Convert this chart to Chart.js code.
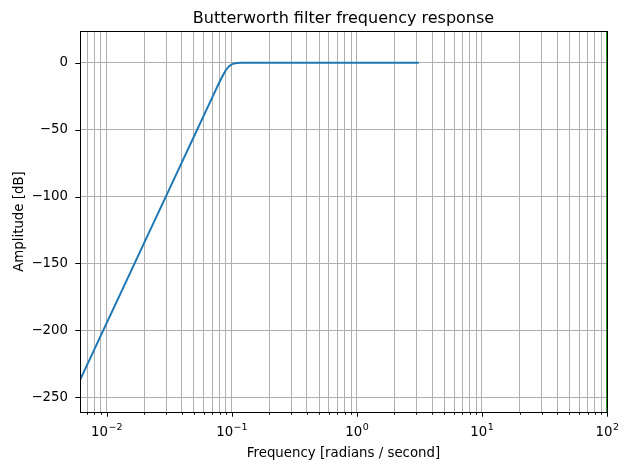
<!DOCTYPE html>
<html>
<head>
<meta charset="utf-8">
<script src="https://cdn.jsdelivr.net/npm/chart.js@4.4.0/dist/chart.umd.min.js"></script>
<style>
  html, body { margin: 0; padding: 0; background: #fff; }
  #wrap { width: 628px; height: 469px; }
</style>
</head>
<body>
<div id="wrap"><canvas id="bwgraph" width="628" height="469"></canvas></div>
<script>
// frequency response (rad/sample, dB)
var freq = [0.00614, 0.008, 0.01, 0.015, 0.02, 0.03, 0.04, 0.05, 0.06, 0.07, 0.08, 0.085, 0.09, 0.095, 0.1, 0.105, 0.11, 0.12, 0.15, 0.3, 1, 3.136];
var amp = [-237.2, -214.3, -194.9, -159.7, -134.7, -99.5, -74.5, -55.1, -39.3, -25.9, -14.4, -9.5, -5.4, -2.7, -1.2, -0.5, -0.2, -0.03, 0, 0, 0, 0];

// cutoff marker line (green, sits on the right spine)
var cutoffX = [100, 100];
var cutoffY = [-261.1, 23.74];

var xRange = [0.00614, 100];
var yRange = [-261.1, 23.74];
var yTicks = [-250, -200, -150, -100, -50, 0];

var FONT = 'DejaVu Sans';

function isPow10(v) {
    var e = Math.log10(v);
    return Math.abs(e - Math.round(e)) < 1e-9;
}

// axes box, tick marks and texts, drawn over the lines like matplotlib spines
var frame = {
    id: 'frame',
    afterDatasetsDraw: function(chart) {
        var ctx = chart.ctx, a = chart.chartArea;
        var xs = chart.scales.x, ys = chart.scales.y;
        ctx.save();
        ctx.strokeStyle = '#000';
        ctx.lineWidth = 1;
        ctx.beginPath();
        xs.ticks.forEach(function(t) {
            var px = Math.round(xs.getPixelForValue(t.value)) + 0.5;
            var len = isPow10(t.value) ? 4.7 : 2.7;
            ctx.moveTo(px, a.bottom);
            ctx.lineTo(px, a.bottom + len);
        });
        ys.ticks.forEach(function(t) {
            var py = Math.round(ys.getPixelForValue(t.value)) + 0.5;
            ctx.moveTo(a.left, py);
            ctx.lineTo(a.left - 4.7, py);
        });
        ctx.stroke();
        ctx.strokeRect(a.left + 0.5, a.top + 0.5, a.right - a.left, a.bottom - a.top);

        ctx.fillStyle = '#000';
        ctx.textBaseline = 'alphabetic';

        // 10^k labels with a smaller raised exponent
        xs.ticks.forEach(function(t) {
            if (!isPow10(t.value)) return;
            var px = xs.getPixelForValue(t.value);
            var e = String(Math.round(Math.log10(t.value))).replace('-', '\u2212');
            ctx.font = '13.33px "' + FONT + '"';
            var w1 = ctx.measureText('10').width;
            ctx.font = '9.5px "' + FONT + '"';
            var w2 = ctx.measureText(e).width;
            var x0 = px - (w1 + w2) / 2;
            ctx.textAlign = 'left';
            ctx.font = '13.33px "' + FONT + '"';
            ctx.fillText('10', x0, 435.5);
            ctx.font = '9.5px "' + FONT + '"';
            ctx.fillText(e, x0 + w1 + 0.5, 430);
        });

        ctx.textAlign = 'center';
        ctx.font = '16px "' + FONT + '"';
        ctx.fillText('Butterworth filter frequency response', (a.left + a.right) / 2, 22.5);
        ctx.font = '13.33px "' + FONT + '"';
        ctx.fillText('Frequency [radians / second]', (a.left + a.right) / 2, 456.5);
        ctx.translate(23, (a.top + a.bottom) / 2);
        ctx.rotate(-Math.PI / 2);
        ctx.fillText('Amplitude [dB]', 0, 0);
        ctx.restore();
    }
};

Chart.defaults.color = '#000';
Chart.defaults.font.family = FONT;
Chart.defaults.font.size = 13.33;

var ctx = document.getElementById('bwgraph').getContext('2d');
new Chart(ctx, {
    type: 'line',
    data: {
        datasets: [{
            data: freq.map(function(f, i) { return {x: f, y: amp[i]}; }),
            borderColor: '#1f77b4',
            borderWidth: 2,
            pointRadius: 0,
            tension: 0,
            fill: false
        }, {
            data: cutoffX.map(function(f, i) { return {x: f, y: cutoffY[i]}; }),
            borderColor: 'green',
            borderWidth: 1.6,
            pointRadius: 0,
            clip: 3,
            fill: false
        }]
    },
    options: {
        responsive: false,
        animation: false,
        events: [],
        layout: { padding: { left: 0, right: 21, top: 31, bottom: 0 } },
        plugins: {
            legend: { display: false },
            tooltip: { enabled: false }
        },
        scales: {
            x: {
                type: 'logarithmic',
                min: xRange[0],
                max: xRange[1],
                border: { display: false },
                grid: { color: '#b0b0b0', lineWidth: 1, drawTicks: false },
                afterBuildTicks: function(scale) {
                    var t = [];
                    for (var k = -3; k <= 2; k++) {
                        for (var m = 1; m <= 9; m++) {
                            var v = m * Math.pow(10, k);
                            if (v >= xRange[0] && v <= xRange[1] * 1.000001) t.push({value: v, major: m === 1});
                        }
                    }
                    scale.ticks = t;
                },
                ticks: {
                    autoSkip: false,
                    maxRotation: 0,
                    padding: 9,
                    callback: function() { return ''; }
                },
                afterFit: function(scale) { scale.height = 57; }
            },
            y: {
                type: 'linear',
                min: yRange[0],
                max: yRange[1],
                border: { display: false },
                grid: { color: '#b0b0b0', lineWidth: 1, drawTicks: false },
                afterBuildTicks: function(scale) {
                    scale.ticks = yTicks.map(function(v) { return {value: v}; });
                },
                ticks: {
                    padding: 12,
                    callback: function(v) { return String(v).replace('-', '\u2212'); }
                },
                afterFit: function(scale) { scale.width = 80; }
            }
        }
    },
    plugins: [frame]
});
</script>
</body>
</html>
